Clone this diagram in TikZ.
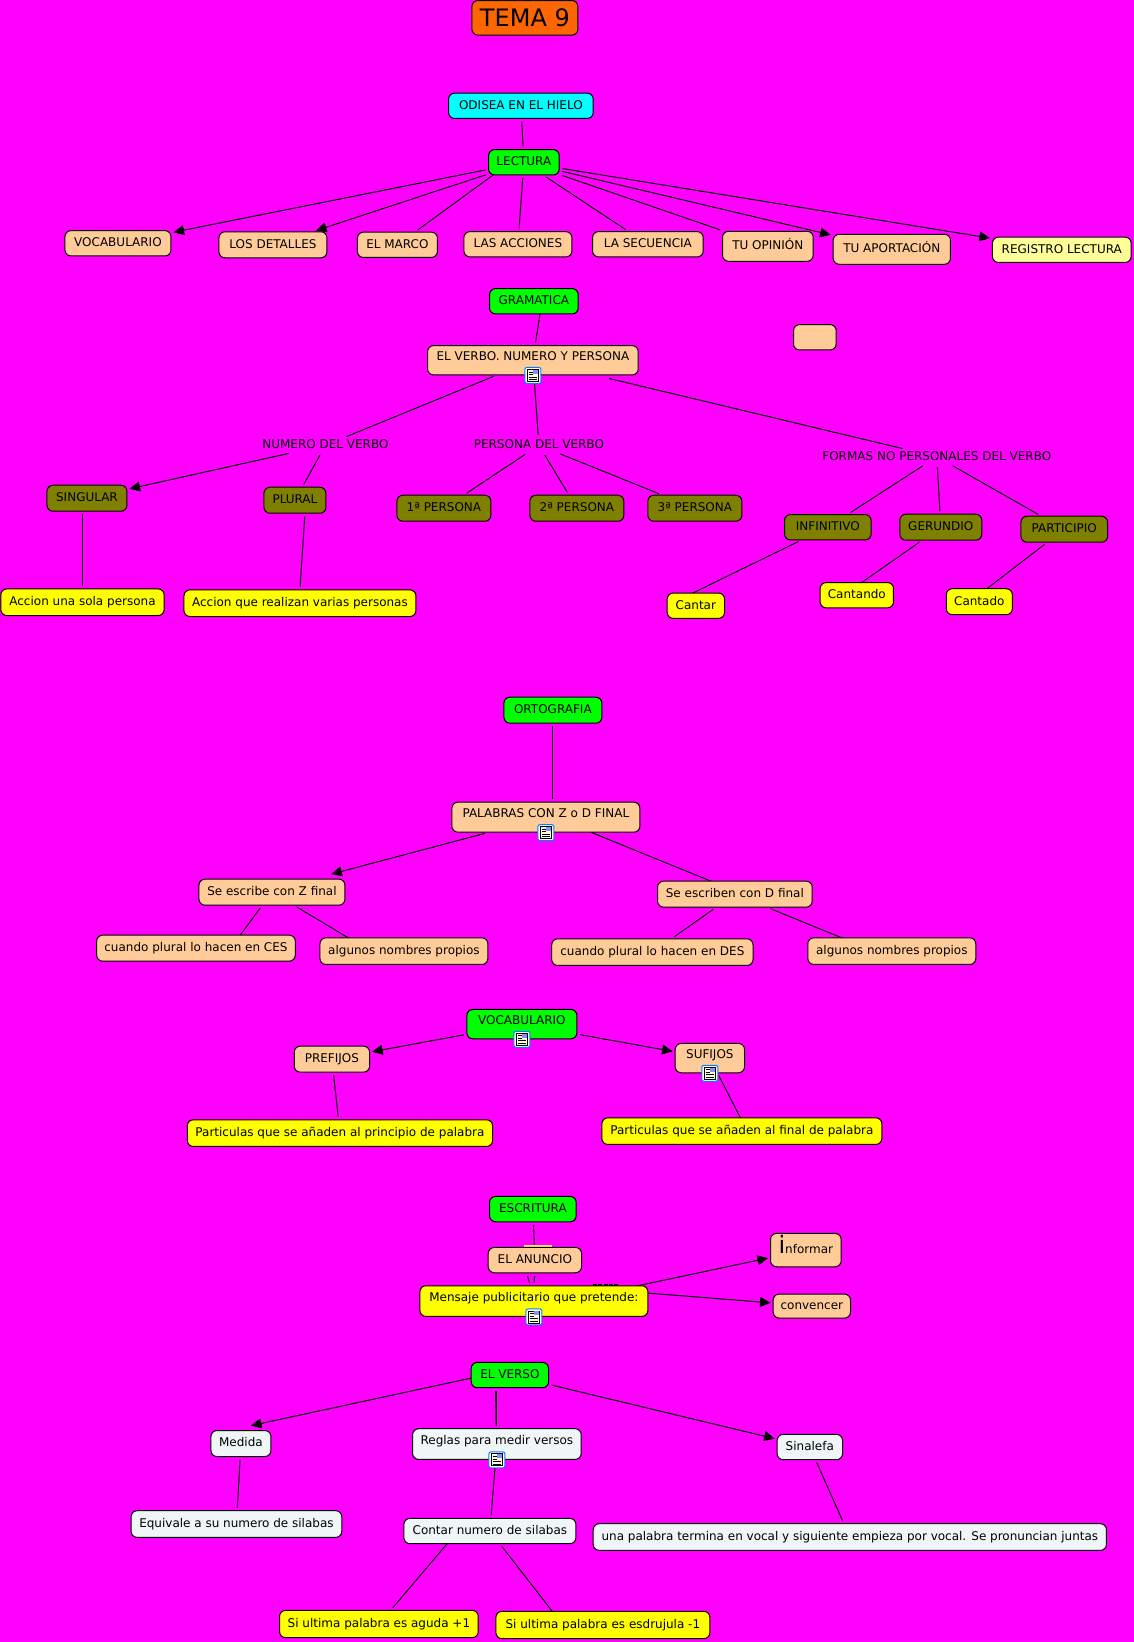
\documentclass[tikz,border=0pt]{standalone}
\usepackage{fontspec}
\setmainfont{DejaVu Sans}
\usetikzlibrary{arrows.meta,backgrounds}
\definecolor{fondo}{RGB}{255,0,255}
\definecolor{naranja}{RGB}{255,102,0}
\definecolor{celeste}{RGB}{0,255,255}
\definecolor{verdoso}{RGB}{0,255,0}
\definecolor{salmon}{RGB}{255,204,153}
\definecolor{oliva}{RGB}{128,128,0}
\definecolor{limon}{RGB}{255,255,0}
\definecolor{crema}{RGB}{255,255,153}
\definecolor{hielo}{RGB}{240,245,248}
\tikzset{
  cepto/.style={draw=black,line width=0.75pt,rounded corners=4.5pt,inner sep=0pt,font=\fontsize{9}{11}\selectfont,text height=7pt,text depth=2pt},
  azul/.style={cepto,fill=celeste},
  verde/.style={cepto,fill=verdoso},
  rosa/.style={cepto,fill=salmon},
  marron/.style={cepto,fill=oliva},
  amarillo/.style={cepto,fill=limon},
  blanco/.style={cepto,fill=hielo},
  conicono/.style={text depth=6pt},
  enlace/.style={inner sep=1pt,font=\fontsize{9}{11}\selectfont,text height=7pt,text depth=2pt},
  linea/.style={black,line width=0.75pt,shorten >=2pt,shorten <=2pt},
  flecha/.style={black,line width=0.75pt,shorten <=2pt,shorten >=1.5pt,-{Triangle[length=8pt,width=7.5pt]}},
}
\newcommand{\iconodoc}[1]{
  \begin{scope}[shift={(#1)}]
    \draw[draw=blue!50!cyan,fill=white,line width=0.75pt,rounded corners=1.5pt] (-8,-8) rectangle (8,8);
    \draw[black,fill=yellow!12,line width=0.6pt] (-5.5,-6) rectangle (5.5,6);
    \fill[blue!45] (0.5,-5.5) rectangle (5,-1.5);
    \draw[black,line width=0.5pt] (-4,-3.5) -- (0,-3.5) (-4,-1) -- (0,-1) (-4,1.5) -- (4,1.5) (-4,4) -- (4,4);
  \end{scope}
}
\begin{document}
\begin{tikzpicture}[x=0.75pt,y=-0.75pt]
\node[cepto,fill=naranja,minimum width=79.5pt,minimum height=26pt,font=\fontsize{18}{20}\selectfont,text height=13pt,text depth=0pt] (tema) at (525,17.5) {TEMA 9};
\node[azul,minimum width=108.5pt,minimum height=19pt] (odisea) at (521,105.5) {ODISEA EN EL HIELO};
\node[verde,minimum width=53pt,minimum height=19pt] (lectura) at (524,162) {LECTURA};
\node[rosa,minimum width=79.5pt,minimum height=19pt] (vocabulario) at (118,243) {VOCABULARIO};
\node[rosa,minimum width=81pt,minimum height=19.5pt] (detalles) at (273,244.5) {LOS DETALLES};
\node[rosa,minimum width=60pt,minimum height=19pt] (marco) at (397.5,244.5) {EL MARCO};
\node[rosa,minimum width=81pt,minimum height=19pt] (acciones) at (518,244) {LAS ACCIONES};
\node[rosa,minimum width=83pt,minimum height=19pt] (secuencia) at (648,244) {LA SECUENCIA};
\node[rosa,minimum width=68pt,minimum height=22.5pt] (opinion) at (768,246) {TU OPINIÓN};
\node[rosa,minimum width=88pt,minimum height=22.5pt] (aportacion) at (892,249) {TU APORTACIÓN};
\node[cepto,fill=crema,minimum width=104pt,minimum height=19pt] (registro) at (1062,249.5) {REGISTRO LECTURA};

\node[verde,minimum width=66.5pt,minimum height=19pt] (gramatica) at (534,301) {GRAMATICA};
\node[rosa,conicono,minimum width=158pt,minimum height=22pt] (verbo) at (533,360) {EL VERBO. NUMERO Y PERSONA};
\node[rosa,minimum width=32pt,minimum height=19pt] (vacio) at (815,337) {};
\node[enlace] (numero) at (325.5,445) {NUMERO DEL VERBO};
\node[enlace] (persona) at (539,445) {PERSONA DEL VERBO};
\node[enlace] (formas) at (937,456.5) {FORMAS NO PERSONALES DEL VERBO};
\node[marron,minimum width=60pt,minimum height=19.5pt] (singular) at (87,498) {SINGULAR};
\node[marron,minimum width=46.5pt,minimum height=19.5pt] (plural) at (295,500) {PLURAL};
\node[marron,minimum width=70.5pt,minimum height=19.5pt] (primera) at (444,508) {1ª PERSONA};
\node[marron,minimum width=70.5pt,minimum height=19.5pt] (segunda) at (577,508) {2ª PERSONA};
\node[marron,minimum width=70.5pt,minimum height=19.5pt] (tercera) at (695,508) {3ª PERSONA};
\node[marron,minimum width=65pt,minimum height=19pt] (infinitivo) at (828,527) {INFINITIVO};
\node[marron,minimum width=61.5pt,minimum height=19.5pt] (gerundio) at (941,527) {GERUNDIO};
\node[marron,minimum width=65pt,minimum height=19.5pt] (participio) at (1064.5,529) {PARTICIPIO};
\node[amarillo,minimum width=122.5pt,minimum height=20pt] (sola) at (82.5,602) {Accion una sola persona};
\node[amarillo,minimum width=174pt,minimum height=20pt] (varias) at (300,603) {Accion que realizan varias personas};
\node[amarillo,minimum width=43pt,minimum height=19pt] (cantar) at (696,605.5) {Cantar};
\node[amarillo,minimum width=55pt,minimum height=19pt] (cantando) at (857,595) {Cantando};
\node[amarillo,minimum width=49.5pt,minimum height=19.5pt] (cantado) at (979.5,601.5) {Cantado};

\node[verde,minimum width=73.5pt,minimum height=19.5pt] (ortografia) at (553,710) {ORTOGRAFIA};
\node[rosa,conicono,minimum width=141pt,minimum height=22.5pt] (palabras) at (546,817) {PALABRAS CON Z o D FINAL};
\node[rosa,minimum width=109.5pt,minimum height=19.5pt] (zfinal) at (272,892) {Se escribe con Z final};
\node[rosa,minimum width=116pt,minimum height=19.5pt] (dfinal) at (735,894) {Se escriben con D final};
\node[rosa,minimum width=149pt,minimum height=19.5pt] (cuandoz) at (196,948) {cuando plural lo hacen en CES};
\node[rosa,minimum width=126pt,minimum height=20pt] (propiosz) at (404,951) {algunos nombres propios};
\node[rosa,minimum width=151pt,minimum height=20pt] (cuandod) at (652.5,952) {cuando plural lo hacen en DES};
\node[rosa,minimum width=126pt,minimum height=20pt] (propiosd) at (892,951) {algunos nombres propios};

\node[verde,conicono,minimum width=82.5pt,minimum height=22pt] (vocab) at (522,1024) {VOCABULARIO};
\node[rosa,minimum width=56.5pt,minimum height=19.5pt] (prefijos) at (332,1059) {PREFIJOS};
\node[rosa,conicono,minimum width=52pt,minimum height=22pt] (sufijos) at (710,1058) {SUFIJOS};
\node[amarillo,minimum width=229pt,minimum height=20pt] (principio) at (340,1133) {Particulas que se añaden al principio de palabra};
\node[amarillo,minimum width=210pt,minimum height=20pt] (final) at (742,1131) {Particulas que se añaden al final de palabra};

\node[verde,minimum width=65pt,minimum height=19pt] (escritura) at (533,1209) {ESCRITURA};
\node[rosa,minimum width=70pt,minimum height=19pt] (anuncio) at (535,1260) {EL ANUNCIO};
\node[amarillo,conicono,minimum width=171pt,minimum height=23pt] (mensaje) at (534,1301) {Mensaje publicitario que pretende:};
\node[rosa,minimum width=53pt,minimum height=25pt] (informar) at (806,1250) {{\fontsize{18}{18}\selectfont i}nformar};
\node[rosa,minimum width=58pt,minimum height=18pt] (convencer) at (812,1306) {convencer};

\node[verde,minimum width=58pt,minimum height=19pt] (verso) at (510,1375) {EL VERSO};
\node[blanco,minimum width=45pt,minimum height=19.5pt] (medida) at (241,1443.5) {Medida};
\node[blanco,conicono,minimum width=126.5pt,minimum height=23pt] (reglas) at (497,1444) {Reglas para medir versos};
\node[blanco,minimum width=49pt,minimum height=19pt] (sinalefa) at (810,1447) {Sinalefa};
\node[blanco,minimum width=158pt,minimum height=20pt] (equivale) at (236.5,1524) {Equivale a su numero de silabas};
\node[blanco,minimum width=129pt,minimum height=19pt] (contar) at (490,1531) {Contar numero de silabas};
\node[blanco,minimum width=385pt,minimum height=20pt] (juntas) at (850,1537) {una palabra termina en vocal y siguiente empieza por vocal. Se pronuncian juntas};
\node[amarillo,minimum width=149pt,minimum height=20.5pt] (aguda) at (379,1624) {Si ultima palabra es aguda +1};
\node[amarillo,minimum width=160.5pt,minimum height=20.5pt] (esdrujula) at (603,1625) {Si ultima palabra es esdrujula -1};

\iconodoc{verbo.south}
\iconodoc{palabras.south}
\iconodoc{vocab.south}
\iconodoc{sufijos.south}
\iconodoc{mensaje.south}
\iconodoc{reglas.south}

\begin{pgfonlayer}{background}
\fill[fondo] (0,0) rectangle (1134,1642);
\path[use as bounding box] (0,0) rectangle (1134,1642);
\draw[linea] (odisea) -- (lectura);
\draw[flecha] (lectura) -- (vocabulario);
\draw[flecha] (lectura) -- (detalles);
\draw[linea] ([xshift=-10pt]lectura.center) -- (marco);
\draw[linea] (lectura) -- (acciones);
\draw[linea] (lectura) -- (secuencia);
\draw[linea] (lectura) -- (opinion);
\draw[flecha] (lectura) -- (aportacion);
\draw[flecha] (lectura) -- (registro);
\draw[linea] ([xshift=6pt]gramatica.center) -- (verbo);
\draw[linea] (verbo) -- (numero);
\draw[linea] (verbo) -- (persona);
\draw[linea,shorten <=10pt] (verbo) -- (formas);
\draw[flecha] (numero) -- (singular);
\draw[linea] (numero) -- (plural);
\draw[linea] (persona) -- (primera);
\draw[linea] (persona) -- (segunda);
\draw[linea] (persona) -- (tercera);
\draw[linea] (formas) -- (infinitivo);
\draw[linea] (formas) -- (gerundio);
\draw[linea] (formas) -- (participio);
\draw[linea] (sola |- singular.south) -- (sola.north);
\draw[linea] ([xshift=7.5pt]plural.south) -- (varias.north);
\draw[linea] (infinitivo) -- (cantar.west);
\draw[linea] (gerundio) -- ([xshift=-10pt]cantando.center);
\draw[linea] (participio) -- ([xshift=-7pt]cantado.center);
\draw[linea] (ortografia) -- (ortografia |- palabras.north);
\draw[flecha] (palabras) -- ([xshift=43pt,yshift=3pt]zfinal.north);
\draw[linea] ([xshift=6pt]palabras.center) -- ([xshift=6pt]dfinal.center);
\draw[linea] (zfinal) -- ([xshift=26pt]cuandoz.center);
\draw[linea] (zfinal) -- ([xshift=-25pt]propiosz.center);
\draw[linea] (dfinal) -- (cuandod);
\draw[linea] (dfinal) -- ([xshift=-13pt]propiosd.center);
\draw[flecha] (vocab) -- (prefijos);
\draw[flecha] (vocab) -- (sufijos);
\draw[linea] (prefijos) -- (principio);
\draw[linea] (sufijos) -- ([xshift=4pt]final.center);
\draw[linea] (escritura) -- (anuncio);
\draw[linea] (anuncio.south) -- (mensaje.north);
\draw[linea] ([xshift=-6pt]anuncio.south) -- ([xshift=-3pt]mensaje.north);
\draw[flecha] ([yshift=-5pt]mensaje.center) -- (informar);
\draw[flecha] ([xshift=60pt,yshift=8pt]mensaje.center) -- (convencer);
\draw[flecha] ([yshift=4pt]verso.center) -- ([xshift=6pt,yshift=3pt]medida.north);
\draw[linea] (reglas |- verso.south) -- (reglas.north);
\draw[linea] ([xshift=-1pt]reglas |- verso.south) -- ([xshift=-0.6pt]reglas.north);
\draw[flecha] (verso) -- (sinalefa);
\draw[linea] (medida) -- (equivale);
\draw[linea] (reglas) -- (contar);
\draw[linea] ([xshift=-24pt]contar.center) -- (aguda);
\draw[linea] (contar) -- ([xshift=-30pt]esdrujula.center);
\draw[linea] (sinalefa) -- (juntas);
\draw[yellow!70!white,line width=1pt] (524,1246) -- (552,1246);
\draw[black,line width=1pt,dash pattern=on 3pt off 1pt] (593,1285) -- (618,1285);
\end{pgfonlayer}
\end{tikzpicture}
\end{document}
